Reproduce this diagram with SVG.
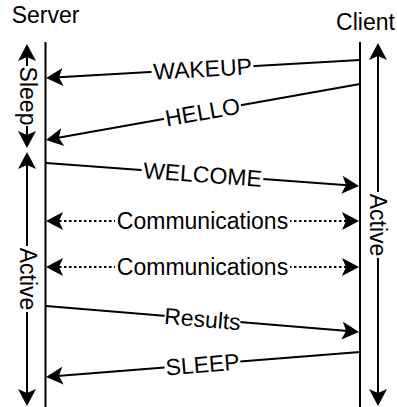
<svg xmlns="http://www.w3.org/2000/svg" width="397" height="407" viewBox="0 0 397 407">
<style>
text{font-family:"Liberation Sans",Arial,Helvetica,sans-serif;font-size:23px;fill:#000;text-anchor:middle}
.ln{stroke:#000;stroke-width:2;fill:none}
.ar{marker-end:url(#ah)}
.dbl{marker-start:url(#ah);marker-end:url(#ah)}
.dot{stroke-dasharray:2.5 2.5}
.bg{fill:#fff}
</style>
<defs>
<marker id="ah" markerUnits="userSpaceOnUse" markerWidth="18" markerHeight="18" viewBox="0 0 17 18" refX="9" refY="9" orient="auto-start-reverse">
<path d="M0,0 L17,9 L0,18 L4,9 Z" fill="#000"/>
</marker>
</defs>
<rect width="397" height="407" fill="#fff"/>
<g id="server">
<text x="45.5" y="23">Server</text>
<line class="ln" x1="45.5" y1="42" x2="45.5" y2="407"/>
<line class="ln dbl" x1="27" y1="52" x2="27" y2="140"/>
<rect class="bg" x="18" y="66" width="20" height="60"/>
<text transform="translate(28,96) rotate(90)" y="8">Sleep</text>
<line class="ln dbl" x1="27" y1="160" x2="27" y2="398"/>
<rect class="bg" x="18" y="246" width="20" height="66"/>
<text transform="translate(28,279) rotate(90)" y="8">Active</text>
</g>
<g id="client">
<text x="365.5" y="30">Client</text>
<line class="ln" x1="360" y1="42" x2="360" y2="407"/>
<line class="ln dbl" x1="378" y1="51" x2="378" y2="398"/>
<rect class="bg" x="369" y="192" width="20" height="66"/>
<text transform="translate(378,225) rotate(90)" y="8">Active</text>
</g>
<g id="connectors">
<line class="ln ar" x1="360" y1="60" x2="54" y2="77.54"/>
<g transform="translate(202.5,69) rotate(-3.27)"><rect class="bg" x="-51" y="-10" width="102" height="20"/><text y="8">WAKEUP</text></g>
<line class="ln ar" x1="360" y1="84" x2="53.88" y2="138.6"/>
<g transform="translate(202.5,112) rotate(-10.08)"><rect class="bg" x="-39" y="-10" width="78" height="20"/><text y="8">HELLO</text></g>
<line class="ln ar" x1="46" y1="163" x2="351.02" y2="185.41"/>
<g transform="translate(202.5,174.5) rotate(4.18)"><rect class="bg" x="-61" y="-10" width="122" height="20"/><text y="8">WELCOME</text></g>
<line class="ln dbl dot" x1="54" y1="221" x2="351" y2="221"/>
<rect class="bg" x="115" y="211" width="175" height="20"/>
<text x="202.5" y="229">Communications</text>
<line class="ln dbl dot" x1="54" y1="267" x2="351" y2="267"/>
<rect class="bg" x="115" y="257" width="175" height="20"/>
<text x="202.5" y="275">Communications</text>
<line class="ln ar" x1="46" y1="306" x2="351.03" y2="331.34"/>
<g transform="translate(202.5,319) rotate(4.72)"><rect class="bg" x="-38" y="-10" width="76" height="20"/><text y="8">Results</text></g>
<line class="ln ar" x1="360" y1="352" x2="53.97" y2="376.36"/>
<g transform="translate(202.5,364.5) rotate(-4.54)"><rect class="bg" x="-38" y="-10" width="76" height="20"/><text y="8">SLEEP</text></g>
</g>
</svg>
